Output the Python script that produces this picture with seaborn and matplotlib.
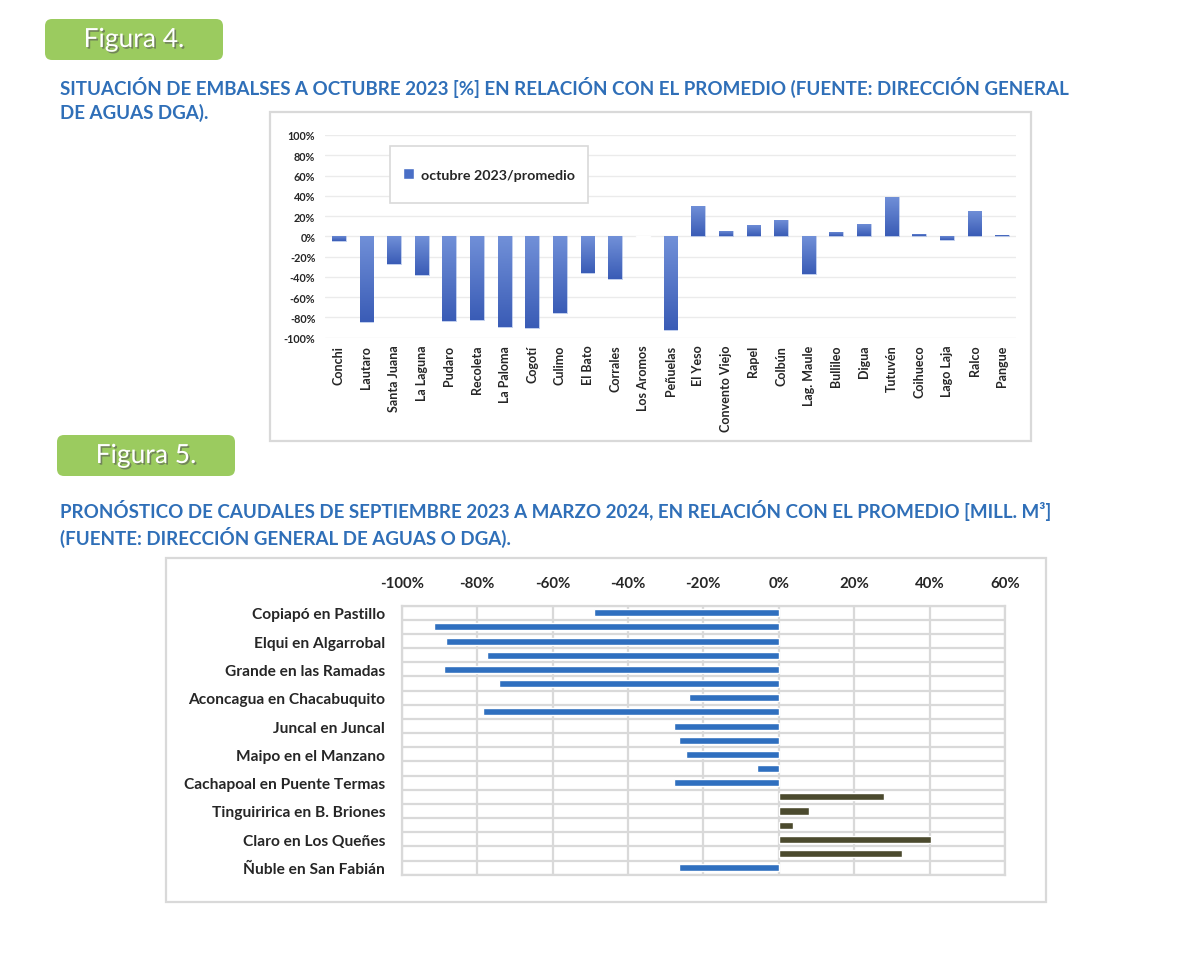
import numpy as np
import pandas as pd
import matplotlib
matplotlib.use('Agg')
import matplotlib.pyplot as plt
import matplotlib.patheffects as pe
from matplotlib.patches import FancyBboxPatch, Rectangle
from matplotlib.transforms import IdentityTransform
from matplotlib.colors import LinearSegmentedColormap
from matplotlib.ticker import PercentFormatter, MultipleLocator
import seaborn as sns

# =============================================================================
# datos Figura 4: embalses, octubre 2023 / promedio
# =============================================================================
embalses = ['Conchi', 'Lautaro', 'Santa Juana', 'La Laguna', 'Pudaro', 'Recoleta',
            'La Paloma', 'Cogotí', 'Culimo', 'El Bato', 'Corrales', 'Los Aromos',
            'Peñuelas', 'El Yeso', 'Convento Viejo', 'Rapel', 'Colbún', 'Lag. Maule',
            'Bullileo', 'Digua', 'Tutuvén', 'Coihueco', 'Lago Laja', 'Ralco', 'Pangue']
oct_vs_prom = [-0.05, -0.85, -0.27, -0.38, -0.84, -0.83, -0.89, -0.90, -0.76, -0.36,
               -0.42, -0.008, -0.92, 0.30, 0.05, 0.115, 0.16, -0.37, 0.04, 0.125,
               0.385, 0.025, -0.04, 0.255, 0.015]

# =============================================================================
# datos Figura 5: pronóstico de caudales (19 filas, etiqueta cada 2 filas)
# =============================================================================
caudales = [-0.49, -0.915, -0.883, -0.773, -0.889, -0.743, -0.237, -0.785, -0.277,
            -0.264, -0.246, -0.059, -0.277, 0.279, 0.081, 0.039, 0.403, 0.327, -0.264]
estaciones = ['Copiapó en Pastillo', 'Elqui en Algarrobal', 'Grande en las Ramadas',
              'Aconcagua en Chacabuquito', 'Juncal en Juncal', 'Maipo en el Manzano',
              'Cachapoal en Puente Termas', 'Tinguiririca en B. Briones',
              'Claro en Los Queñes', 'Ñuble en San Fabián']
x_ticks5 = [-1.0, -0.8, -0.6, -0.4, -0.2, 0.0, 0.2, 0.4, 0.6]

AZUL_TIT = '#2F6FB8'
AZUL4 = '#4A6FC6'
VERDE = '#9BCB5F'
GRIS = '#D9D9D9'

sns.set_style('white')
plt.rcParams['font.family'] = ['Lato', 'DejaVu Sans']
plt.rcParams['axes.unicode_minus'] = False

W, H = 1200, 954
fig = plt.figure(figsize=(W / 100, H / 100), dpi=100)

# =============================================================================
# etiquetas "Figura" y títulos
# =============================================================================
for (x0, y0, x1, y1, txt) in [(45, 20, 223, 61, 'Figura 4.'), (57, 436, 235, 477, 'Figura 5.')]:
    badge = FancyBboxPatch((x0, H - y1), x1 - x0, y1 - y0,
                           boxstyle='round,pad=0,rounding_size=7',
                           transform=IdentityTransform(), facecolor=VERDE,
                           edgecolor='none')
    fig.add_artist(badge)
    fig.text((x0 + x1) / 2 / W, 1 - (y0 + y1) / 2 / H, txt, color='white', fontsize=19,
             ha='center', va='center',
             path_effects=[pe.SimplePatchShadow(offset=(1.2, -1.2), shadow_rgbFace='#555555', alpha=0.6),
                           pe.Normal()])

def titulo(x, y, s):
    fig.text(x / W, 1 - y / H, s, color=AZUL_TIT, fontsize=13.5, fontweight='bold',
             ha='left', va='center')

titulo(60, 87, 'SITUACIÓN DE EMBALSES A OCTUBRE 2023 [%] EN RELACIÓN CON EL PROMEDIO (FUENTE: DIRECCIÓN GENERAL')
titulo(60, 113, 'DE AGUAS DGA).')
titulo(60, 511, 'PRONÓSTICO DE CAUDALES DE SEPTIEMBRE 2023 A MARZO 2024, EN RELACIÓN CON EL PROMEDIO [MILL. M³]')
titulo(60, 537, '(FUENTE: DIRECCIÓN GENERAL DE AGUAS O DGA).')

# marcos de los gráficos
for (x0, y0, x1, y1) in [(270, 113, 1031, 442), (166, 559, 1046, 903)]:
    fig.add_artist(Rectangle((x0 / W, 1 - y1 / H), (x1 - x0) / W, (y1 - y0) / H,
                             transform=fig.transFigure, facecolor='white',
                             edgecolor=GRIS, linewidth=1.6, zorder=-1))

# =============================================================================
# Figura 4
# =============================================================================
ax1 = fig.add_axes([325 / W, 1 - 338.7 / H, 691 / W, 202.7 / H])
ax1.patch.set_alpha(0)
df4 = pd.DataFrame({'embalse': embalses, 'valor': oct_vs_prom})
sns.barplot(data=df4, x='embalse', y='valor', color=AZUL4, saturation=1,
            width=0.5, ax=ax1)

# degradado vertical en cada barra (más claro arriba, más oscuro abajo)
grad_cmap = LinearSegmentedColormap.from_list('g', ['#3A5CB6', '#7190D8'])
grad = np.linspace(0, 1, 64).reshape(-1, 1)
for bar in ax1.patches:
    x, y = bar.get_x(), bar.get_y()
    w, h = bar.get_width(), bar.get_height()
    y0, y1 = min(y, y + h), max(y, y + h)
    if y1 - y0 < 0.01:
        bar.set_facecolor('#8FA7E0')
        continue
    im = ax1.imshow(grad, extent=(x, x + w, y0, y1), origin='lower', cmap=grad_cmap,
                    aspect='auto', zorder=2)
    im.set_clip_path(bar)
    bar.set_facecolor('none')
    bar.set_edgecolor('#8FA7E0')
    bar.set_linewidth(0.4)

ax1.set_xlim(-0.5, len(embalses) - 0.5)
ax1.set_ylim(-1, 1)
ax1.yaxis.set_major_locator(MultipleLocator(0.2))
ax1.yaxis.set_major_formatter(PercentFormatter(1, decimals=0))
ax1.grid(axis='y', color='#EBEBEB', linewidth=1)
ax1.set_axisbelow(True)
sns.despine(ax=ax1, left=True, bottom=True)
ax1.set_xlabel('')
ax1.set_ylabel('')
ax1.tick_params(axis='y', length=0, pad=7, labelsize=7.8)
ax1.tick_params(axis='x', length=0, pad=5, labelsize=9, labelrotation=90)
for lab in ax1.get_xticklabels() + ax1.get_yticklabels():
    lab.set_fontweight('bold')

# leyenda
ax1.add_artist(Rectangle((390 / W, 1 - 204 / H), 198 / W, 57 / H, transform=fig.transFigure,
                         facecolor='white', edgecolor=GRIS, linewidth=1.2, zorder=4,
                         clip_on=False))
ley = ax1.legend(handles=[Rectangle((0, 0), 1, 1, facecolor=AZUL4)],
                 labels=['octubre 2023/promedio'], loc='center',
                 bbox_to_anchor=((489 - 325) / 691, (338.7 - 175.5) / 202.7),
                 frameon=False, handlelength=0.75, handleheight=0.75, handletextpad=0.5,
                 prop={'weight': 'bold', 'size': 10.3})
ley.set_zorder(6)

# =============================================================================
# Figura 5
# =============================================================================
ax2 = fig.add_axes([401.7 / W, 1 - 875.7 / H, 603.3 / W, 269 / H])
df5 = pd.DataFrame({'fila': [str(i) for i in range(len(caudales))], 'valor': caudales})
df5['signo'] = np.where(df5['valor'] >= 0, 'pos', 'neg')
sns.barplot(data=df5, x='valor', y='fila', hue='signo', orient='h', dodge=False,
            palette={'neg': '#2F6FBF', 'pos': '#4B4A2E'}, saturation=1, width=0.5,
            legend=False, ax=ax2)
ax2.set_xlim(x_ticks5[0], x_ticks5[-1])
ax2.set_ylim(len(caudales) - 0.5, -0.5)
ax2.set_xticks(x_ticks5)
ax2.xaxis.set_major_formatter(PercentFormatter(1, decimals=0))
ax2.xaxis.tick_top()
ax2.set_yticks(np.arange(0, len(caudales), 2))
ax2.set_yticklabels(estaciones)
ax2.set_yticks(np.arange(-0.5, len(caudales), 1), minor=True)
ax2.grid(axis='x', which='major', color=GRIS, linewidth=1.6)
ax2.grid(axis='y', which='minor', color=GRIS, linewidth=1.6)
ax2.set_axisbelow(True)
for sp in ax2.spines.values():
    sp.set_color(GRIS)
    sp.set_linewidth(1.6)
ax2.set_xlabel('')
ax2.set_ylabel('')
ax2.tick_params(axis='both', which='both', length=0)
ax2.tick_params(axis='y', pad=12, labelsize=11.2)
ax2.tick_params(axis='x', pad=11, labelsize=10.8)
for lab in ax2.get_xticklabels() + ax2.get_yticklabels():
    lab.set_fontweight('bold')

fig.savefig('out.png', dpi=100)
